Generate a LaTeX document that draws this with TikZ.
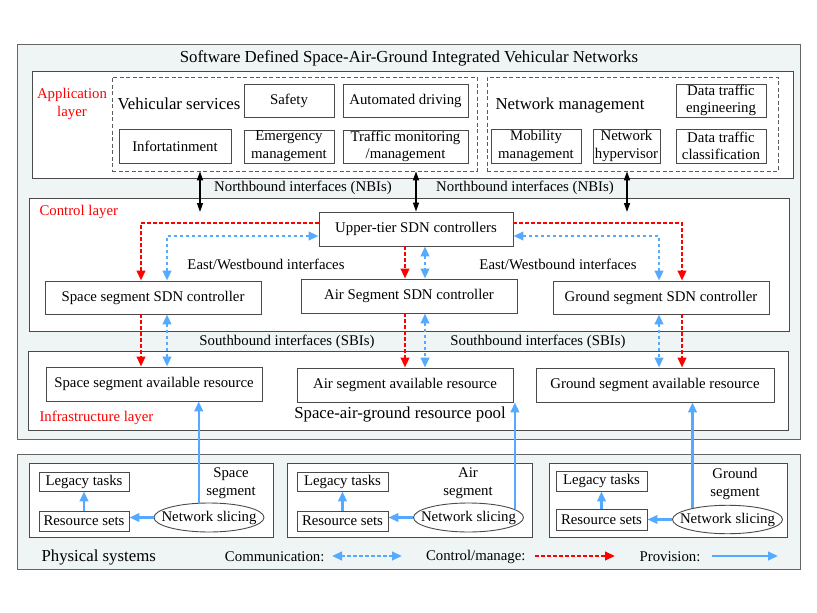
\documentclass[tikz,border=0pt]{standalone}
\usepackage{fontspec}
\setmainfont{Liberation Serif}
\usetikzlibrary{positioning,arrows.meta,shapes,calc}
\definecolor{ctrlred}{HTML}{FF0000}
\definecolor{provblue}{HTML}{55AAFF}
\definecolor{panelfill}{HTML}{EFF4F4}
\definecolor{edge}{HTML}{4A4A4A}
\newcommand{\normtxt}{\fontsize{14.8}{17.5}\selectfont}
\newcommand{\largetxt}{\fontsize{16.8}{19}\selectfont}

\begin{document}
\begin{tikzpicture}[x=1pt,y=-1pt,
    panel/.style={draw=edge!85,fill=panelfill,line width=0.9pt},
    layer/.style={draw=edge,fill=white,line width=0.9pt},
    group/.style={draw=edge!90,dash pattern=on 4pt off 2.5pt,line width=0.8pt},
    box/.style={draw=edge,fill=white,line width=0.9pt,align=center,inner sep=0pt,font=\normtxt},
    lbl/.style={font=\normtxt,align=center},
    redlbl/.style={font=\normtxt,text=ctrlred,align=center},
    big/.style={font=\largetxt},
    slice/.style={draw=edge,fill=white,ellipse,line width=0.9pt,minimum width=110pt,minimum height=29pt,font=\normtxt},
    ctrl/.style={ctrlred,line width=2.3pt,dash pattern=on 3.5pt off 2.5pt,-{Triangle[length=10pt,width=8.5pt]}},
    comm/.style={provblue,line width=2.3pt,dash pattern=on 3.5pt off 2.5pt,{Triangle[length=10pt,width=8.5pt]}-{Triangle[length=10pt,width=8.5pt]}},
    prov/.style={provblue,line width=2.3pt,-{Triangle[length=10pt,width=8.5pt]}},
    nbi/.style={line width=1.3pt,{Triangle[length=9pt,width=6pt]}-{Triangle[length=9pt,width=6pt]}}]

    \useasboundingbox (0,0) rectangle (817,613);

    % outer panels
    \node[panel,minimum width=783pt,minimum height=395pt] (sdn) at (408.5,241.5) {};
    \node[big] (title) at (409,58) {Software Defined Space-Air-Ground Integrated Vehicular Networks};
    \node[panel,minimum width=783pt,minimum height=115pt] (phys) at (408.5,511.5) {};

    % application layer
    \node[layer,minimum width=761pt,minimum height=107pt] (app) at (412.5,124.5) {};
    \node[redlbl] (applbl) at (72,104) {Application\\layer};
    \node[group,minimum width=365pt,minimum height=94pt] (vs) at (294.5,124) {};
    \node[group,minimum width=291pt,minimum height=94pt] (nm) at (632.5,124) {};
    \node[big] (vstxt) at (179,104) {Vehicular services};
    \node[big] (nmtxt) at (570,105) {Network management};
    \node[box,minimum width=90pt,minimum height=33pt] (safety) at (289,100.5) {Safety};
    \node[box,minimum width=125pt,minimum height=33pt] (auto) at (405.5,100.5) {Automated driving};
    \node[box,minimum width=112pt,minimum height=34pt] (info) at (175,146) {Infortatinment};
    \node[box,minimum width=90pt,minimum height=33pt] (emerg) at (289,146.5) {Emergency\\management};
    \node[box,minimum width=125pt,minimum height=33pt] (traffic) at (405.5,146.5) {Traffic monitoring\\/management};
    \node[box,minimum width=90pt,minimum height=33pt] (dteng) at (721,100.5) {Data traffic\\engineering};
    \node[box,minimum width=90pt,minimum height=34pt] (mobil) at (536,146) {Mobility\\management};
    \node[box,minimum width=67pt,minimum height=34pt] (hyper) at (626.5,146) {Network\\hypervisor};
    \node[box,minimum width=90pt,minimum height=34pt] (dtcls) at (721,146) {Data traffic\\classification};

    % control layer
    \node[layer,minimum width=760pt,minimum height=133pt] (ctl) at (409,264.5) {};
    \node[redlbl,anchor=west] (ctllbl) at (36,212) {Control layer};
    \node[lbl] (nbiA) at (303,188) {Northbound interfaces (NBIs)};
    \node[lbl] (nbiB) at (525,188) {Northbound interfaces (NBIs)};
    \node[box,minimum width=194pt,minimum height=34pt] (upper) at (416,229) {Upper-tier SDN controllers};
    \node[box,minimum width=216pt,minimum height=33pt] (spacectl) at (153,297.5) {Space segment SDN controller};
    \node[box,minimum width=216pt,minimum height=34pt] (airctl) at (409,296) {Air Segment SDN controller};
    \node[box,minimum width=216pt,minimum height=33pt] (groundctl) at (661,297.5) {Ground segment SDN controller};
    \node[lbl] (ewA) at (266,264) {East/Westbound interfaces};
    \node[lbl] (ewB) at (558,264) {East/Westbound interfaces};

    % infrastructure layer
    \node[layer,minimum width=760pt,minimum height=79pt] (infra) at (408,390.5) {};
    \node[lbl] (sbiA) at (287,342) {Southbound interfaces (SBIs)};
    \node[lbl] (sbiB) at (538,342) {Southbound interfaces (SBIs)};
    \node[box,minimum width=216pt,minimum height=34pt] (spaceres) at (154,384) {Space segment available resource};
    \node[box,minimum width=216pt,minimum height=34pt] (airres) at (405,385) {Air segment available resource};
    \node[box,minimum width=238pt,minimum height=34pt] (groundres) at (655,385) {Ground segment available resource};
    \node[redlbl,anchor=west] (infralbl) at (36,418) {Infrastructure layer};
    \node[big] (pool) at (400,414) {Space-air-ground resource pool};

    % physical segments
    \node[layer,minimum width=244pt,minimum height=74pt] (spaceseg) at (151,500) {};
    \node[layer,minimum width=245pt,minimum height=74pt] (airseg) at (409.5,500) {};
    \node[layer,minimum width=238pt,minimum height=74pt] (groundseg) at (668,500) {};
    \node[lbl,font=\fontsize{14.8}{18}\selectfont] (spacetxt) at (231,483) {Space\\segment};
    \node[lbl,font=\fontsize{14.8}{18}\selectfont] (airtxt) at (468,483) {Air\\segment};
    \node[lbl,font=\fontsize{14.8}{18}\selectfont] (groundtxt) at (735,484) {Ground\\segment};
    \node[box,minimum width=90pt,minimum height=19pt] (ltSpace) at (84,481.5) {Legacy tasks};
    \node[box,minimum width=90pt,minimum height=20pt] (rsSpace) at (84,521) {Resource sets};
    \node[box,minimum width=91pt,minimum height=19pt] (ltAir) at (342.5,481.5) {Legacy tasks};
    \node[box,minimum width=91pt,minimum height=20pt] (rsAir) at (342.5,521) {Resource sets};
    \node[box,minimum width=91pt,minimum height=20pt] (ltGround) at (601.5,481) {Legacy tasks};
    \node[box,minimum width=91pt,minimum height=21pt] (rsGround) at (601.5,519.5) {Resource sets};
    \node[slice] (nsSpace) at (209,517.5) {\makebox[0pt]{Network slicing}};
    \node[slice] (nsAir) at (468.5,517.5) {\makebox[0pt]{Network slicing}};
    \node[slice,minimum height=25pt] (nsGround) at (727.5,519.5) {\makebox[0pt]{Network slicing}};

    % x positions of the vertical links
    \coordinate (spR) at (141,0);
    \coordinate (spB) at (167,0);
    \coordinate (airR) at (405,0);
    \coordinate (airB) at (425,0);
    \coordinate (grB) at (659,0);
    \coordinate (grR) at (682,0);
    \coordinate (nbiL) at (200,212);
    \coordinate (nbiR) at (627,212);

    % northbound
    \draw[nbi] (vs.south -| nbiL) -- (nbiL);
    \draw[nbi] (vs.south -| upper.north) -- (upper.north);
    \draw[nbi] (nm.south -| nbiR) -- (nbiR);

    % east/westbound
    \draw[ctrl] ($(upper.west)+(0,-6)$) -| (spacectl.north -| spR);
    \draw[comm] ($(upper.west)+(0,7)$) -| (spacectl.north -| spB);
    \draw[ctrl] ($(upper.east)+(0,-6)$) -| (groundctl.north -| grR);
    \draw[comm] ($(upper.east)+(0,7)$) -| (groundctl.north -| grB);
    \draw[ctrl] (upper.south -| airR) -- (airctl.north -| airR);
    \draw[comm] (upper.south -| airB) -- (airctl.north -| airB);

    % southbound
    \draw[ctrl] (spacectl.south -| spR) -- (spaceres.north -| spR);
    \draw[comm] (spacectl.south -| spB) -- (spaceres.north -| spB);
    \draw[ctrl] (airctl.south -| airR) -- (airres.north -| airR);
    \draw[comm] (airctl.south -| airB) -- (airres.north -| airB);
    \draw[comm] (groundctl.south -| grB) -- (groundres.north -| grB);
    \draw[ctrl] (groundctl.south -| grR) -- (groundres.north -| grR);

    % provision
    \draw[prov] (nsSpace.125) -- (nsSpace.125 |- spaceres.south);
    \draw[prov] (nsAir.10) -- (nsAir.10 |- airres.south);
    \draw[prov] (nsGround.162) -- (nsGround.162 |- groundres.south);
    \draw[prov] (nsSpace.west) -- (nsSpace.west -| rsSpace.east);
    \draw[prov] (nsAir.west) -- (nsAir.west -| rsAir.east);
    \draw[prov] (nsGround.west) -- (nsGround.west -| rsGround.east);
    \draw[prov] (rsSpace.north) -- (ltSpace.south);
    \draw[prov] (rsAir.north) -- (ltAir.south);
    \draw[prov] (rsGround.north) -- (ltGround.south);

    % legend
    \node[big,anchor=west] (physlbl) at (38,557) {Physical systems};
    \node[lbl,anchor=east] (commtxt) at (328,557) {Communication:};
    \node[lbl,anchor=east] (ctrltxt) at (529,557) {Control/manage:};
    \node[lbl,anchor=east] (provtxt) at (704,557) {Provision:};
    \coordinate (commA) at (332,556);
    \coordinate (commB) at (402,556);
    \coordinate (ctrlA) at (535,556);
    \coordinate (ctrlB) at (615,556);
    \coordinate (provA) at (712,556);
    \coordinate (provB) at (778,556);
    \draw[comm] (commA) -- (commB);
    \draw[ctrl] (ctrlA) -- (ctrlB);
    \draw[prov] (provA) -- (provB);
\end{tikzpicture}
\end{document}
